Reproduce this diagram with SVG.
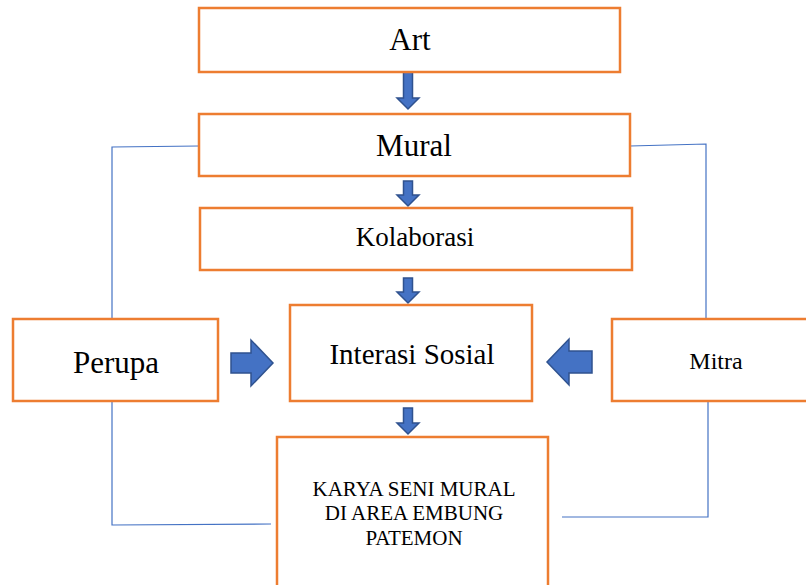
<svg xmlns="http://www.w3.org/2000/svg" width="806" height="585" viewBox="0 0 806 585">
<style>
.box{fill:#fff;stroke:#ED7D31;stroke-width:2.5}
.t{font-family:"Liberation Serif","Times New Roman",serif;fill:#000;text-anchor:middle}
.arr{fill:#4472C4;stroke:#2F528F;stroke-width:1.5;stroke-linejoin:miter}
.ln{fill:none;stroke:#4472C4;stroke-width:1.2}
</style>
<rect width="806" height="585" fill="#fff"/>
<g id="connectors">
<polyline class="ln" points="199,146 112,147 112,319"/>
<polyline class="ln" points="112,401 112,525 271,524"/>
<polyline class="ln" points="630,146 706,144 706,319"/>
<polyline class="ln" points="708,401 708,517 562,517"/>
<path class="arr" d="M403.5,72 H412.5 V98 H419 L408,109 L397,98 H403.5 Z"/>
<path class="arr" d="M403.5,181 H412.5 V195 H419 L408,206 L397,195 H403.5 Z"/>
<path class="arr" d="M403.5,278 H412.5 V292 H419 L408,303 L397,292 H403.5 Z"/>
<path class="arr" d="M403.5,408 H412.5 V423 H419 L408,434 L397,423 H403.5 Z"/>
<path class="arr" d="M231,353 H251 V340 L273,363 L251,386 V373 H231 Z"/>
<path class="arr" d="M592,351 H569 V339 L547,362 L569,385 V373 H592 Z"/>
</g>
<g id="art"><rect class="box" x="199" y="8" width="421" height="64"/><text class="t" x="410" y="50" font-size="31">Art</text></g>
<g id="mural"><rect class="box" x="199" y="114" width="431" height="62"/><text class="t" x="414" y="156" font-size="31">Mural</text></g>
<g id="kolaborasi"><rect class="box" x="200" y="208" width="432" height="62"/><text class="t" x="415" y="246" font-size="27">Kolaborasi</text></g>
<g id="interasi"><rect class="box" x="290" y="305" width="242" height="96"/><text class="t" x="412" y="364" font-size="29">Interasi Sosial</text></g>
<g id="perupa"><rect class="box" x="13" y="319" width="205" height="82"/><text class="t" x="116" y="373" font-size="31">Perupa</text></g>
<g id="mitra"><rect class="box" x="612" y="319" width="200" height="82"/><text class="t" x="716" y="369" font-size="24">Mitra</text></g>
<g id="karya"><rect class="box" x="277" y="437" width="271" height="160"/>
<text class="t" x="414" y="496" font-size="21">KARYA SENI MURAL</text>
<text class="t" x="414" y="520" font-size="21">DI AREA EMBUNG</text>
<text class="t" x="414" y="545" font-size="21">PATEMON</text></g>
</svg>
